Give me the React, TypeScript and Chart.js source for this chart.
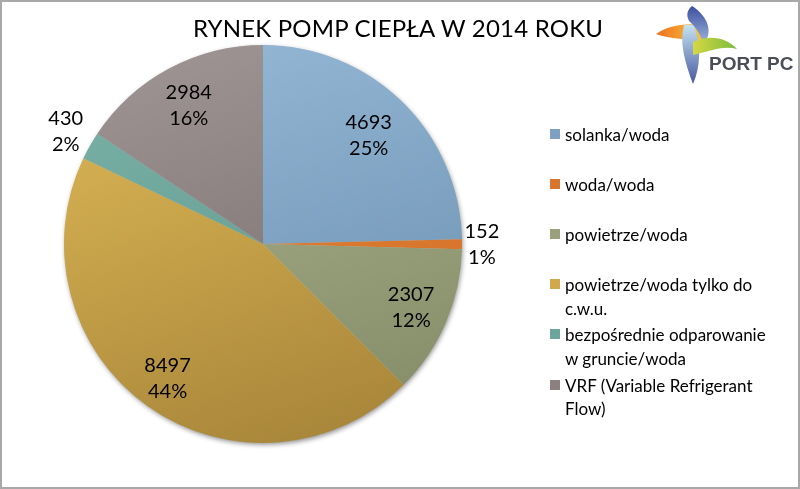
import React, { useEffect, useRef } from 'react';
import { Chart, registerables } from 'chart.js';

Chart.register(...registerables);

const chartTitle = 'RYNEK POMP CIEPŁA W 2014 ROKU';
const categories = [
  'solanka/woda',
  'woda/woda',
  'powietrze/woda',
  'powietrze/woda tylko do c.w.u.',
  'bezpośrednie odparowanie w gruncie/woda',
  'VRF (Variable Refrigerant Flow)',
];
const legendLines = [
  ['solanka/woda'],
  ['woda/woda'],
  ['powietrze/woda'],
  ['powietrze/woda tylko do', 'c.w.u.'],
  ['bezpośrednie odparowanie', 'w gruncie/woda'],
  ['VRF (Variable Refrigerant', 'Flow)'],
];
const values = [4693, 152, 2307, 8497, 430, 2984];
const percentLabels = ['25%', '1%', '12%', '44%', '2%', '16%'];

const lightColors = ['#93b6d5', '#e98b3d', '#abb38d', '#dcb655', '#79b1a6', '#9d9392'];
const darkColors = ['#6b8fae', '#cd6a22', '#858c68', '#a8863a', '#5e958a', '#756a6a'];
const legendColors = ['#7ea1c2', '#d8752c', '#9aa07b', '#d1a84b', '#6ba59b', '#8b8181'];
const labelRadiusFactor = [0.76, 1.1, 0.81, 0.83, 1.14, 0.79];

const FONT = 'Lato, "Open Sans", sans-serif';

const shadowPlugin = {
  id: 'pieShadow',
  beforeDatasetsDraw(chart: any) {
    const meta = chart.getDatasetMeta(0);
    const arc = meta.data[0];
    if (!arc) return;
    const ctx = chart.ctx;
    ctx.save();
    ctx.shadowColor = 'rgba(0,0,0,0.45)';
    ctx.shadowBlur = 5;
    ctx.shadowOffsetX = 1;
    ctx.shadowOffsetY = 2;
    ctx.fillStyle = '#bbbbbb';
    ctx.beginPath();
    ctx.arc(arc.x, arc.y, arc.outerRadius - 0.5, 0, Math.PI * 2);
    ctx.fill();
    ctx.restore();
  },
};

const labelPlugin = {
  id: 'sliceLabels',
  afterDatasetsDraw(chart: any) {
    const meta = chart.getDatasetMeta(0);
    const ctx = chart.ctx;
    ctx.save();
    ctx.fillStyle = '#000000';
    ctx.font = `20px ${FONT}`;
    ctx.textAlign = 'center';
    ctx.textBaseline = 'middle';
    meta.data.forEach((arc: any, i: number) => {
      const mid = (arc.startAngle + arc.endAngle) / 2;
      const d = arc.outerRadius * labelRadiusFactor[i];
      const x = arc.x + Math.cos(mid) * d;
      const y = arc.y + Math.sin(mid) * d;
      ctx.fillText(String(values[i]), x, y - 13);
      ctx.fillText(percentLabels[i], x, y + 13);
    });
    ctx.restore();
  },
};

function Logo() {
  return (
    <svg
      width={800}
      height={90}
      viewBox="0 0 800 90"
      style={{ position: 'absolute', left: 0, top: 0, pointerEvents: 'none' }}
    >
      <defs>
        <linearGradient id="gTop" x1="0" y1="0" x2="0" y2="1">
          <stop offset="0" stopColor="#3e4f9f" />
          <stop offset="1" stopColor="#a3bfe3" />
        </linearGradient>
        <linearGradient id="gLeft" x1="0" y1="0" x2="1" y2="0">
          <stop offset="0" stopColor="#ef6f22" />
          <stop offset="1" stopColor="#f7cd3c" />
        </linearGradient>
        <linearGradient id="gRight" x1="0" y1="0" x2="1" y2="0">
          <stop offset="0" stopColor="#d6d843" />
          <stop offset="1" stopColor="#79bb3d" />
        </linearGradient>
        <linearGradient id="gBottom" x1="0" y1="0" x2="0" y2="1">
          <stop offset="0" stopColor="#c4e3f2" />
          <stop offset="1" stopColor="#4858a0" />
        </linearGradient>
      </defs>
      <path d="M656,34 C669,25 688,22 705,26 L703,42 C688,39 670,39 656,34 Z" fill="url(#gLeft)" />
      <path d="M684,25 C679,42 685,63 693,84 C701,66 701,44 694,25 Z" fill="url(#gBottom)" />
      <path d="M692,6 C703,13 711,24 708,36 L703,47 C702,36 697,28 689,21 C686,15 687,10 692,6 Z" fill="url(#gTop)" />
      <path d="M693,42 C708,35 725,36 737,49 C722,45 708,52 693,55 Z" fill="url(#gRight)" />
      <text
        x={709}
        y={70}
        fontFamily='"Liberation Sans", Arial, sans-serif'
        fontWeight="bold"
        fontSize={19}
        fill="#4b4f55"
      >
        PORT PC
      </text>
    </svg>
  );
}

export default function App() {
  const canvasRef = useRef<HTMLCanvasElement | null>(null);

  useEffect(() => {
    document.body.style.margin = '0';
    const canvas = canvasRef.current;
    if (!canvas) return;
    const chart = new Chart(canvas, {
      type: 'pie',
      data: {
        labels: categories,
        datasets: [
          {
            data: values,
            borderWidth: 0,
            backgroundColor: (c: any) => {
              const ch = c.chart;
              const area = ch.chartArea;
              const i = c.dataIndex;
              if (!area) return lightColors[i];
              const cx = (area.left + area.right) / 2;
              const r = (area.bottom - area.top) / 2;
              const g = ch.ctx.createLinearGradient(cx - r * 0.3, area.top, cx + r * 0.3, area.bottom);
              g.addColorStop(0, lightColors[i]);
              g.addColorStop(1, darkColors[i]);
              return g;
            },
          },
        ],
      },
      options: {
        responsive: false,
        animation: false,
        layout: { padding: { left: 63, right: 337, top: 45, bottom: 46 } },
        plugins: {
          legend: { display: false },
          tooltip: { enabled: false },
          title: { display: false },
        },
      },
      plugins: [shadowPlugin, labelPlugin],
    });
    return () => chart.destroy();
  }, []);

  return (
    <div
      style={{
        position: 'absolute',
        left: 0,
        top: 0,
        width: 800,
        height: 489,
        background: '#ffffff',
        fontFamily: FONT,
        overflow: 'hidden',
      }}
    >
      <canvas ref={canvasRef} width={800} height={489} style={{ position: 'absolute', left: 0, top: 0 }} />
      <div
        style={{
          position: 'absolute',
          left: 0,
          width: 796,
          top: 13,
          textAlign: 'center',
          fontSize: 24,
          lineHeight: '30px',
          color: '#000',
          letterSpacing: '0.2px',
        }}
      >
        {chartTitle}
      </div>
      <Logo />
      {legendLines.map((lines, i) => (
        <div
          key={i}
          style={{
            position: 'absolute',
            left: 565,
            top: 122.5 + i * 50.2,
            fontSize: 17,
            lineHeight: '23.5px',
            color: '#000',
            whiteSpace: 'nowrap',
          }}
        >
          <div
            style={{
              position: 'absolute',
              left: -15,
              top: 6,
              width: 10,
              height: 10,
              background: legendColors[i],
            }}
          />
          {lines.map((l, j) => (
            <div key={j}>{l}</div>
          ))}
        </div>
      ))}
      <div
        style={{
          position: 'absolute',
          left: 0,
          top: 0,
          width: 800,
          height: 489,
          boxSizing: 'border-box',
          border: '2px solid #a8a8a8',
          pointerEvents: 'none',
        }}
      />
    </div>
  );
}
